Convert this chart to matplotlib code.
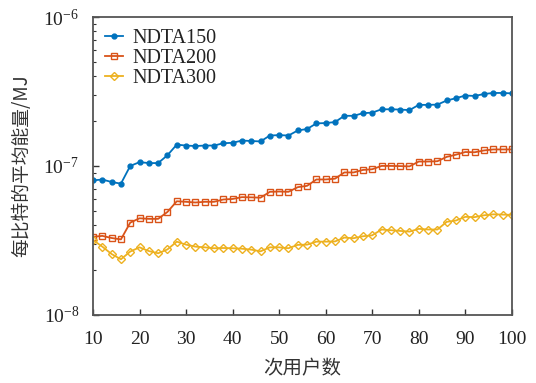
import matplotlib
matplotlib.use("Agg")
import matplotlib.pyplot as plt
import numpy as np
from matplotlib.ticker import LogLocator, NullFormatter, FixedLocator

users = list(range(10, 101, 2))

ndta150 = [8.0e-8, 8.1e-8, 7.8e-8, 7.6e-8, 1.0e-7, 1.06e-7, 1.045e-7, 1.045e-7, 1.18e-7, 1.39e-7,
           1.37e-7, 1.36e-7, 1.37e-7, 1.37e-7, 1.42e-7, 1.43e-7, 1.48e-7, 1.47e-7, 1.46e-7, 1.60e-7,
           1.61e-7, 1.60e-7, 1.73e-7, 1.77e-7, 1.93e-7, 1.94e-7, 1.97e-7, 2.17e-7, 2.17e-7, 2.26e-7,
           2.28e-7, 2.40e-7, 2.40e-7, 2.39e-7, 2.37e-7, 2.57e-7, 2.57e-7, 2.58e-7, 2.75e-7, 2.85e-7,
           2.97e-7, 2.95e-7, 3.04e-7, 3.09e-7, 3.09e-7, 3.07e-7]
ndta200 = [3.34e-8, 3.39e-8, 3.28e-8, 3.21e-8, 4.16e-8, 4.45e-8, 4.41e-8, 4.41e-8, 4.91e-8, 5.79e-8,
           5.74e-8, 5.68e-8, 5.74e-8, 5.74e-8, 5.95e-8, 6.0e-8, 6.17e-8, 6.15e-8, 6.12e-8, 6.70e-8,
           6.73e-8, 6.70e-8, 7.2e-8, 7.35e-8, 8.11e-8, 8.11e-8, 8.21e-8, 9.04e-8, 9.04e-8, 9.4e-8,
           9.5e-8, 1.0e-7, 1.0e-7, 9.97e-8, 9.93e-8, 1.07e-7, 1.07e-7, 1.075e-7, 1.15e-7, 1.19e-7,
           1.24e-7, 1.235e-7, 1.27e-7, 1.29e-7, 1.29e-7, 1.29e-7]
ndta300 = [3.18e-8, 2.87e-8, 2.56e-8, 2.36e-8, 2.66e-8, 2.84e-8, 2.68e-8, 2.59e-8, 2.75e-8, 3.10e-8,
           2.96e-8, 2.87e-8, 2.84e-8, 2.80e-8, 2.81e-8, 2.80e-8, 2.78e-8, 2.74e-8, 2.67e-8, 2.84e-8,
           2.84e-8, 2.80e-8, 2.95e-8, 2.96e-8, 3.10e-8, 3.10e-8, 3.11e-8, 3.30e-8, 3.27e-8, 3.37e-8,
           3.42e-8, 3.74e-8, 3.70e-8, 3.66e-8, 3.62e-8, 3.78e-8, 3.74e-8, 3.74e-8, 4.21e-8, 4.30e-8,
           4.55e-8, 4.53e-8, 4.66e-8, 4.73e-8, 4.71e-8, 4.69e-8]

labels = ["NDTA150", "NDTA200", "NDTA300"]
xticks = list(range(10, 101, 10))

serif = ["Liberation Serif", "DejaVu Serif"]
cjk = ["Noto Sans CJK SC", "DejaVu Sans"]

fig = plt.figure(figsize=(5.36, 3.83), dpi=100)
ax = fig.add_axes([0.1735, 0.178, 0.7815, 0.7776])

ax.plot(users, ndta150, color="#0072BD", marker="o", markersize=3.5, lw=1.3, label=labels[0])
ax.plot(users, ndta200, color="#D95319", marker="s", markersize=4, mfc="none", mew=1.0, lw=1.3, label=labels[1])
ax.plot(users, ndta300, color="#EDB120", marker="D", markersize=4, mfc="none", mew=1.0, lw=1.3, label=labels[2])

ax.set_yscale("log")
ax.set_ylim(1e-8, 1e-6)
ax.set_xlim(10, 100)
ax.xaxis.set_major_locator(FixedLocator(xticks))
ax.yaxis.set_major_locator(LogLocator(base=10, numticks=10))
ax.yaxis.set_minor_locator(LogLocator(base=10, subs=np.arange(2, 10), numticks=10))
ax.yaxis.set_minor_formatter(NullFormatter())

for s in ax.spines.values():
    s.set_color("#555555")
    s.set_linewidth(1.3)

ax.tick_params(axis="both", which="both", direction="in", top=False, right=False, color="#333333")
ax.tick_params(axis="both", which="major", length=4, width=1.0, labelsize=14, labelcolor="#222222")
ax.tick_params(axis="x", which="major", pad=12)
ax.tick_params(axis="y", which="major", pad=10)
ax.tick_params(axis="y", which="minor", length=2.5, width=0.8)
for lab in ax.get_xticklabels() + ax.get_yticklabels():
    lab.set_fontfamily(serif)

ax.set_xlabel("次用户数", fontsize=14, family=cjk, labelpad=7, color="#333333")
ax.set_ylabel("每比特的平均能量/MJ", fontsize=13.5, family=cjk, labelpad=8, color="#333333")

leg = ax.legend(loc="upper left", frameon=False, prop={"family": serif, "size": 14.5},
                handlelength=0.9, handletextpad=0.45, labelspacing=0.05, borderaxespad=0.2,
                bbox_to_anchor=(0.0, 1.0))
for t in leg.get_texts():
    t.set_color("#222222")

fig.savefig("out.png", dpi=100)
